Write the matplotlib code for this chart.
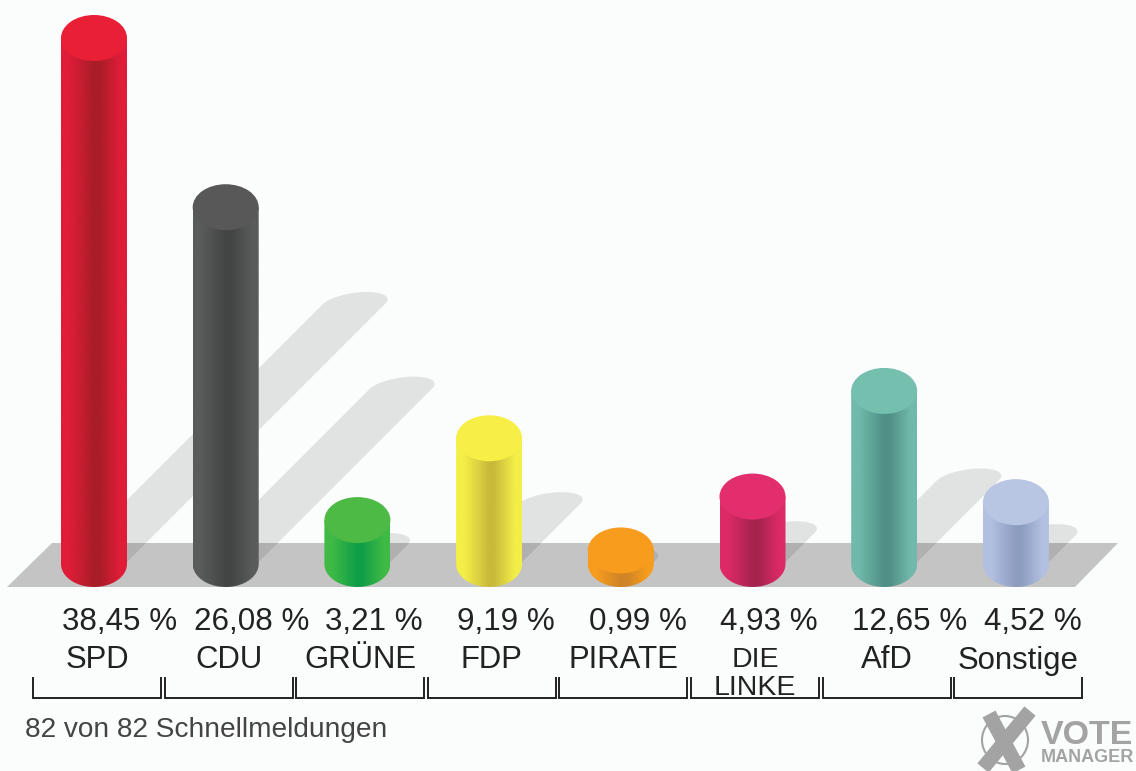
import numpy as np
import matplotlib
matplotlib.use('Agg')
import matplotlib.pyplot as plt
from matplotlib.colors import LinearSegmentedColormap
from matplotlib.patches import Ellipse, PathPatch, Polygon
from matplotlib.path import Path
from matplotlib.transforms import Affine2D

parties = ['SPD', 'CDU', 'GRÜNE', 'FDP', 'PIRATE', 'DIE\nLINKE', 'AfD', 'Sonstige']
shares = [38.45, 26.08, 3.21, 9.19, 0.99, 4.93, 12.65, 4.52]
share_labels = ['38,45 %', '26,08 %', '3,21 %', '9,19 %', '0,99 %', '4,93 %', '12,65 %', '4,52 %']
footnote = '82 von 82 Schnellmeldungen'

# edge, dark middle, top cap
colors = [
    ('#e01d38', '#a81d28', '#e92035'),
    ('#5a5b5b', '#434544', '#585858'),
    ('#3fba45', '#0f9e48', '#4cba45'),
    ('#f4ef48', '#c9ba3a', '#f7ef45'),
    ('#f79c1c', '#cf8428', '#f79c1c'),
    ('#dc2a66', '#a5244e', '#e22e6c'),
    ('#71b9aa', '#4f8f85', '#75bfaf'),
    ('#b2c0e2', '#8d9dbf', '#b8c6e4'),
]

W, H = 1136, 771
BG = '#fbfcfc'
# scale of the axes: pixels per category and per percent point, and where 0 sits
PX_CAT = 131.7
PX_PCT = 13.68
X0, Y0 = 94, 564
RX, RY = 33 / PX_CAT, 23 / PX_PCT

fig = plt.figure(figsize=(W / 100, H / 100), dpi=100, facecolor=BG)
ax = fig.add_axes([0, 0, 1, 1])
ax.set_xlim((0 - X0) / PX_CAT, (W - X0) / PX_CAT)
ax.set_ylim((Y0 - H) / PX_PCT, Y0 / PX_PCT)
ax.axis('off')
xlim, ylim = ax.get_xlim(), ax.get_ylim()

# furniture is placed in image pixels, y going down
px = Affine2D().scale(1, -1).translate(0, H)
plt.rcParams['font.family'] = ['Liberation Sans', 'DejaVu Sans']

ax.add_patch(Polygon([(7, 587), (52, 543), (1118, 543), (1075, 587)],
                     closed=True, facecolor='#c4c4c4', edgecolor='none',
                     transform=px, zorder=1))

# shadows: 45 degree strips, about half as long as the bar is tall
t = np.linspace(0, np.pi, 40)
for i, v in enumerate(shares):
    d = 0.5 * v * PX_PCT - 3
    cap_x = i + d / PX_CAT + (31 * np.cos(t) + 13 * np.sin(t)) / PX_CAT
    cap_y = d / PX_PCT + 12 * np.sin(t) / PX_PCT
    pts = [(i + 31 / PX_CAT, 0)] + list(zip(cap_x, cap_y)) + [(i - 31 / PX_CAT, 0)]
    ax.add_patch(Polygon(pts, closed=True, facecolor='black', edgecolor='none',
                         alpha=0.1, zorder=2))

for i, v in enumerate(shares):
    edge, dark, cap = colors[i]
    cmap = LinearSegmentedColormap.from_list(
        'cyl', [(0, edge), (0.12, edge), (0.5, dark), (0.58, dark), (0.9, edge), (1, edge)])
    b = np.linspace(np.pi, 2 * np.pi, 40)
    verts = [(i - RX, v)] + list(zip(i + RX * np.cos(b), RY * np.sin(b))) + [(i + RX, v), (i - RX, v)]
    clip = PathPatch(Path(verts), transform=ax.transData, facecolor='none', edgecolor='none')
    ax.add_patch(clip)
    im = ax.imshow(np.linspace(0, 1, 256).reshape(1, -1), cmap=cmap, aspect='auto',
                   extent=(i - RX, i + RX, -RY, v), zorder=3, interpolation='bilinear')
    im.set_clip_path(clip)
    ax.add_patch(Ellipse((i, v), 2 * RX, 2 * RY, facecolor=cap, edgecolor='none', zorder=4))

ax.set_xlim(xlim)
ax.set_ylim(ylim)

# labels and brackets
for i, label in enumerate(share_labels):
    ax.text(62 + 131.7 * i, 619, label, transform=px, fontsize=22.6, color='#222222',
            ha='left', va='center_baseline')
for i, name in enumerate(parties):
    cx = 97 + 131.6 * i
    lines = name.split('\n')
    size = 22.4 if len(lines) == 1 else 20.5
    ax.text(cx, 657, lines[0], transform=px, fontsize=size, color='#222222',
            ha='center', va='center_baseline')
    if len(lines) > 1:
        ax.text(cx, 685, lines[1], transform=px, fontsize=size, color='#222222',
                ha='center', va='center_baseline')
    ax.plot([cx - 64, cx - 64, cx + 64, cx + 64], [678, 698, 698, 678], transform=px,
            color='#222222', lw=1.4, solid_joinstyle='miter')

ax.text(25, 727, footnote, transform=px, fontsize=20.2, color='#444444',
        ha='left', va='center_baseline')

# logo
grey = '#a3a3a3'
ax.add_patch(Ellipse((1005, 740), 46, 48, facecolor='none', edgecolor=grey, lw=1.5, transform=px))
ax.plot([1030, 983], [711, 768], transform=px, color=grey, lw=10.5, solid_capstyle='butt')
ax.plot([989, 1019], [714, 770], transform=px, color=grey, lw=10.5, solid_capstyle='butt')
ax.text(1041, 732, 'VOTE', transform=px, fontsize=24.5, fontweight='bold', color=grey,
        ha='left', va='center_baseline')
ax.text(1041, 756, 'MANAGER', transform=px, fontsize=13, fontweight='bold', color=grey,
        ha='left', va='center_baseline')

fig.savefig('out.png', dpi=100, facecolor=BG)
